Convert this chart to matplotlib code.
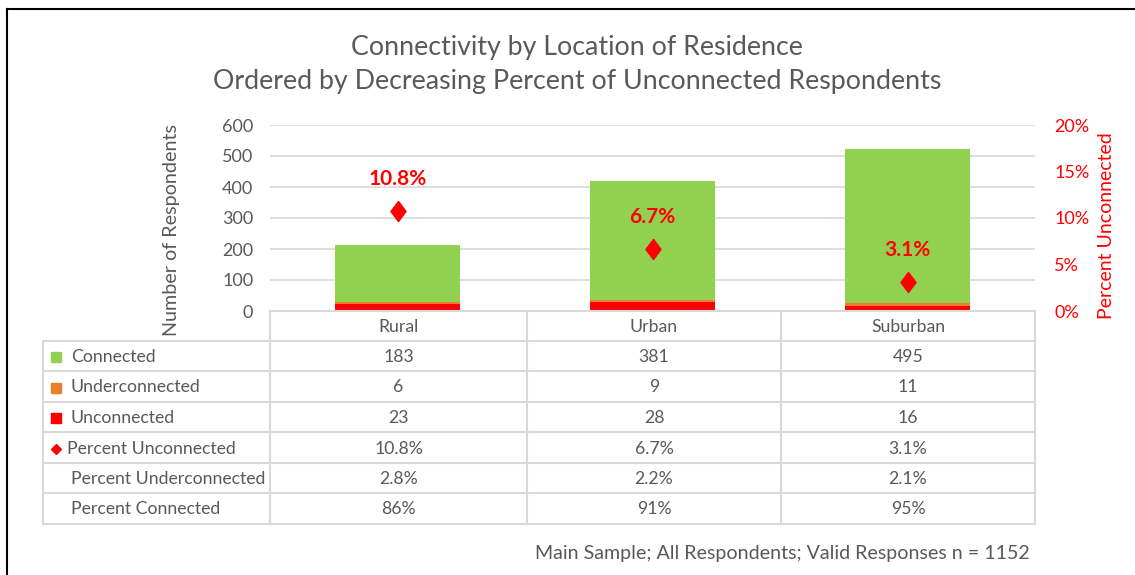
import numpy as np
import matplotlib
matplotlib.use("Agg")
from matplotlib import pyplot as plt
from matplotlib.lines import Line2D
from matplotlib.patches import Rectangle

plt.rcParams['font.family'] = ['Lato', 'DejaVu Sans']

# data
categories = ["Rural", "Urban", "Suburban"]
connected = [183, 381, 495]
underconnected = [6, 9, 11]
unconnected = [23, 28, 16]
pct_unconnected = [0.108, 0.067, 0.031]
pct_under_labels = ["2.8%", "2.2%", "2.1%"]
pct_conn_labels = ["86%", "91%", "95%"]

GREEN = "#92D050"
ORANGE = "#ED7D31"
RED = "#FF0000"
GRAY = "#595959"
GRID = "#D9D9D9"

W, H = 1135, 575
fig = plt.figure(figsize=(W / 100, H / 100), dpi=100)

def fx(px):
    return px / W

def fy(py):
    return 1 - py / H

# chart area (pixel positions)
x0, x1, ytop, ybot = 270, 1035, 125, 311
ax = fig.add_axes([fx(x0), fy(ybot), fx(x1 - x0), fy(ytop) - fy(ybot)])
x = np.arange(len(categories))
w = 0.49
b1 = np.array(unconnected)
b2 = b1 + np.array(underconnected)
ax.bar(x, unconnected, w, color=RED, zorder=3)
ax.bar(x, underconnected, w, bottom=b1, color=ORANGE, zorder=3)
ax.bar(x, connected, w, bottom=b2, color=GREEN, zorder=3)
ax.set_xlim(-0.5, 2.5)
ax.set_ylim(0, 600)
ax.set_yticks(np.arange(0, 601, 100))
ax.yaxis.grid(True, color=GRID, linewidth=1.2, zorder=0)
ax.set_xticks([])
for s in ax.spines.values():
    s.set_visible(False)
ax.tick_params(axis="y", length=0, pad=12, labelsize=13, labelcolor=GRAY)

ax2 = ax.twinx()
ax2.set_ylim(0, 0.2)
ax2.set_yticks(np.arange(0, 0.21, 0.05))
ax2.set_yticklabels(["0%", "5%", "10%", "15%", "20%"])
ax2.tick_params(axis="y", length=0, pad=14, labelsize=13, labelcolor=RED)
for s in ax2.spines.values():
    s.set_visible(False)
diamond = [(0, 1), (0.75, 0), (0, -1), (-0.75, 0), (0, 1)]
ax2.plot(x, pct_unconnected, linestyle="none", marker=diamond, markersize=14.5,
         color=RED, zorder=5)
for xi, p in zip(x, pct_unconnected):
    ax2.annotate(f"{p * 100:.1f}%", (xi, p), xytext=(0, 23), textcoords="offset points",
                 ha="center", va="center", color=RED, fontsize=15, fontweight="bold")

# axis titles and chart title
fig.text(fx(172), fy(230), "Number of Respondents", rotation=90, ha="center", va="center",
         fontsize=14.2, color=GRAY)
fig.text(fx(1107), fy(226), "Percent Unconnected", rotation=90, ha="center", va="center",
         fontsize=14, color=RED)
fig.text(fx(577), fy(47), "Connectivity by Location of Residence", ha="center", va="center",
         fontsize=19.3, color=GRAY)
fig.text(fx(577), fy(82), "Ordered by Decreasing Percent of Unconnected Respondents",
         ha="center", va="center", fontsize=19.3, color=GRAY)
fig.text(fx(1030), fy(553), "Main Sample; All Respondents; Valid Responses n = 1152",
         ha="right", va="center", fontsize=14.1, color=GRAY)

# data table
tab = fig.add_axes([0, 0, 1, 1], facecolor="none")
tab.set_xlim(0, W)
tab.set_ylim(H, 0)
tab.axis("off")
cols = [270, 527, 781, 1035]
rows = [311, 341, 371, 402, 432, 463, 493, 524]
lw = 1.5
# header row
tab.add_line(Line2D([cols[0], cols[-1]], [rows[0], rows[0]], color=GRID, lw=lw))
for c in cols:
    tab.add_line(Line2D([c, c], [rows[0], rows[-1]], color=GRID, lw=lw))
for r in rows[1:]:
    tab.add_line(Line2D([43, cols[-1]], [r, r], color=GRID, lw=lw))
tab.add_line(Line2D([43, 43], [rows[1], rows[-1]], color=GRID, lw=lw))
fs = 12.7
for i, cat in enumerate(categories):
    tab.text((cols[i] + cols[i + 1]) / 2, (rows[0] + rows[1]) / 2 + 1, cat,
             ha="center", va="center", fontsize=fs, color=GRAY)

row_names = ["Connected", "Underconnected", "Unconnected", "Percent Unconnected",
             "Percent Underconnected", "Percent Connected"]
row_vals = [
    [str(v) for v in connected],
    [str(v) for v in underconnected],
    [str(v) for v in unconnected],
    [f"{p * 100:.1f}%" for p in pct_unconnected],
    pct_under_labels,
    pct_conn_labels,
]
for j, (name, vals) in enumerate(zip(row_names, row_vals)):
    yc = (rows[j + 1] + rows[j + 2]) / 2 + 1
    if j < 3:
        col = [GREEN, ORANGE, RED][j]
        tab.add_patch(Rectangle((51, yc - 5), 10, 10, color=col))
        tab.text(71, yc, name, ha="left", va="center", fontsize=fs, color=GRAY)
    elif j == 3:
        tab.plot([56], [yc], marker="D", markersize=5.5, color=RED, linestyle="none")
        tab.text(67, yc, name, ha="left", va="center", fontsize=fs, color=GRAY)
    else:
        tab.text(71, yc, name, ha="left", va="center", fontsize=fs, color=GRAY)
    for i, v in enumerate(vals):
        tab.text((cols[i] + cols[i + 1]) / 2, yc, v, ha="center", va="center",
                 fontsize=fs, color=GRAY)

# outer frame (left and top edges visible)
tab.add_line(Line2D([7, W], [9, 9], color="black", lw=1.5))
tab.add_line(Line2D([7, 7], [9, H], color="black", lw=1.5))

fig.savefig("out.png", dpi=100)
